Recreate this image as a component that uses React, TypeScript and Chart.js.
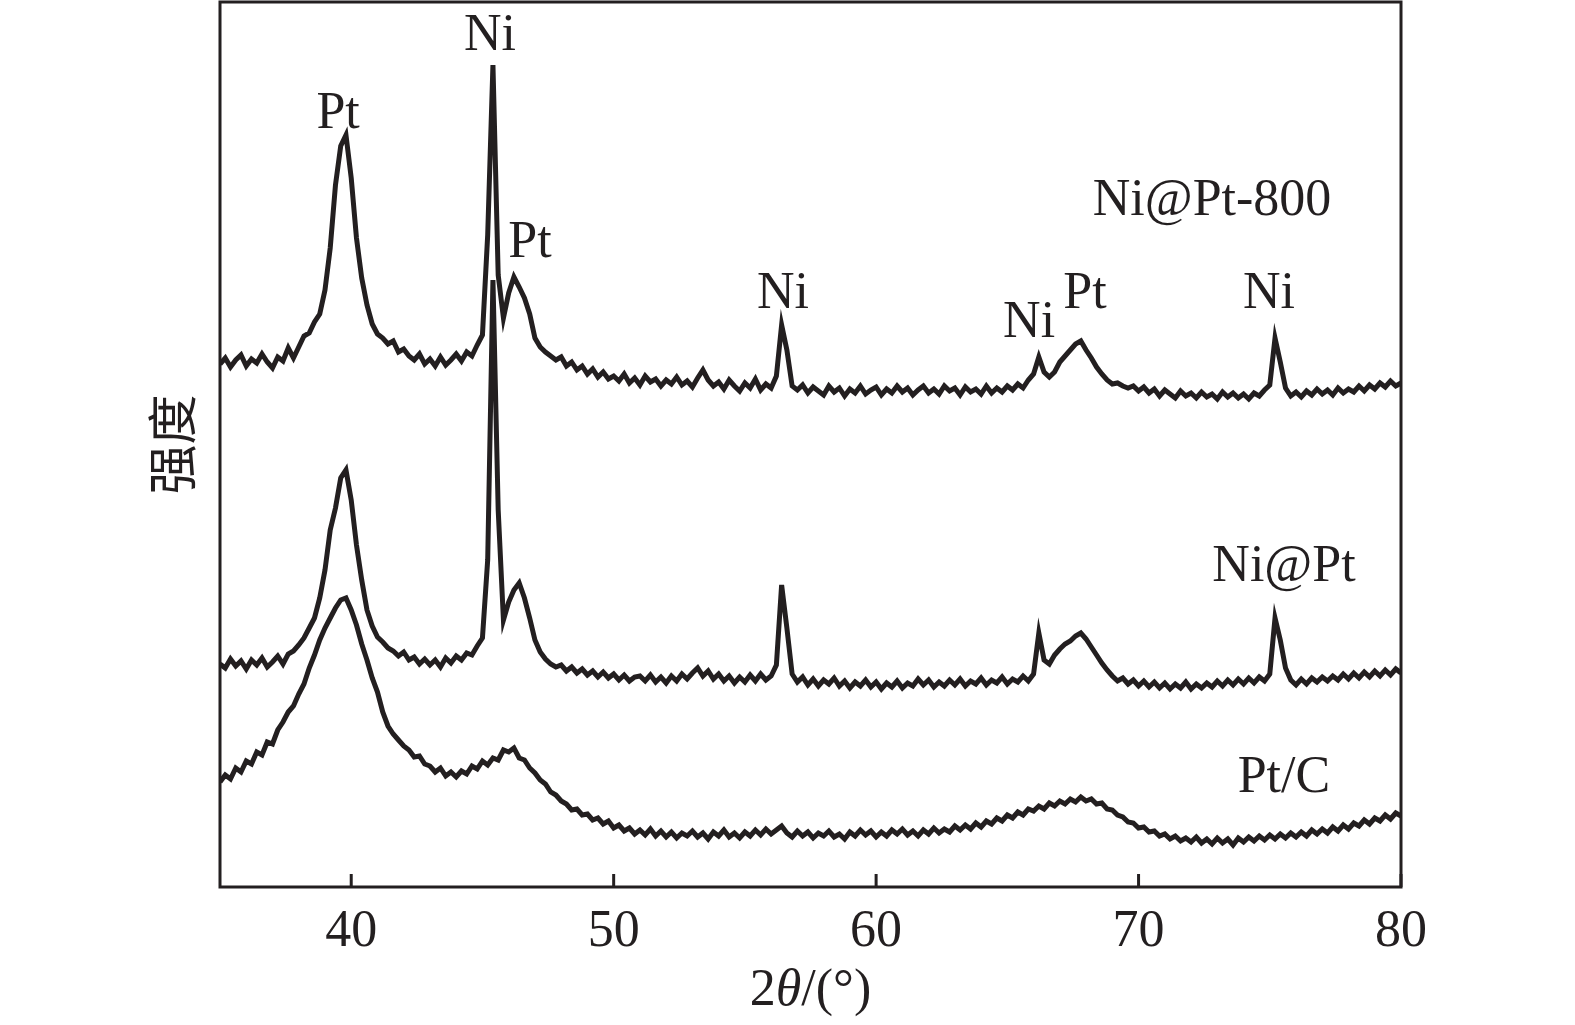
import { useEffect, useRef } from 'react';
import { Chart, registerables } from 'chart.js';

Chart.register(...registerables);

// Diffraction angle grid: 35.0° .. 80.0° sampled every 0.2°
const ANGLE_START = 35;
const ANGLE_STEP = 0.2;

// Intensity (a.u., vertically offset traces)
const niPt800 = [
  636, 642, 633, 640, 645, 634, 641, 637, 646, 638,
  632, 643, 639, 652, 642, 653, 664, 667, 678, 686,
  710, 752, 815, 854, 865, 822, 762, 722, 695, 676,
  666, 662, 656, 659, 648, 651, 644, 640, 646, 636,
  641, 634, 643, 635, 640, 646, 639, 648, 644, 655,
  665, 765, 935, 725, 682, 707, 723, 713, 702, 686,
  662, 653, 648, 644, 640, 643, 634, 638, 630, 634,
  626, 631, 623, 628, 621, 624, 619, 626, 617, 622,
  615, 624, 618, 621, 614, 620, 616, 623, 615, 619,
  613, 622, 630, 620, 614, 618, 611, 620, 614, 609,
  617, 612, 621, 610, 616, 612, 624, 675, 650, 614,
  610, 615, 607, 613, 609, 605, 614, 608, 612, 604,
  611, 607, 614, 606, 610, 613, 605, 611, 607, 614,
  608, 612, 605, 610, 614, 607, 611, 606, 614, 609,
  612, 605, 613, 608, 611, 606, 614, 607, 612, 608,
  614, 610, 616, 612, 620, 626, 643, 628, 623, 628,
  638, 644, 650, 656, 659, 650, 642, 633, 626, 620,
  616, 617, 614, 612, 614, 609, 613, 607, 611, 604,
  610, 606, 602, 609, 604, 607, 602, 608, 603, 606,
  601, 608, 603, 607, 602, 606, 601, 607, 604, 610,
  615, 662, 638, 612, 604, 608, 603, 609, 605, 611,
  606, 610, 605, 612, 607, 611, 608, 614, 609, 615,
  611, 617, 613, 619, 614, 617,
];

const niPt = [
  336, 332, 341, 334, 339, 331, 340, 335, 342, 333,
  338, 344, 336, 346, 349, 355, 362, 372, 382, 402,
  430, 470, 492, 522, 530, 500, 455, 420, 390, 374,
  363, 358, 352, 349, 344, 348, 340, 343, 336, 341,
  335, 340, 333, 342, 337, 344, 340, 347, 345, 354,
  362, 440, 720, 490, 380, 398, 410, 417, 402, 382,
  360, 348, 341, 336, 333, 335, 329, 333, 327, 331,
  325, 329, 323, 328, 322, 326, 320, 325, 319, 323,
  324, 319, 325, 318, 323, 317, 324, 319, 326, 321,
  327, 332, 324, 329, 321, 326, 319, 324, 317, 323,
  318, 325, 319, 326, 320, 324, 335, 415, 372, 326,
  318, 323, 315, 321, 314, 320, 316, 322, 314, 319,
  312, 318, 314, 320, 313, 318, 311, 317, 313, 319,
  312, 317, 314, 321, 315, 320, 313, 318, 314, 320,
  315, 321, 314, 319, 316, 322, 315, 320, 317, 323,
  316, 321, 318, 324, 319, 326, 367, 340, 336, 345,
  351, 356, 359, 364, 367, 361, 353, 345, 337, 330,
  324, 319, 322, 316, 320, 314, 319, 313, 318, 312,
  317, 311, 316, 312, 318, 311, 316, 312, 317, 313,
  319, 314, 320, 315, 321, 316, 322, 317, 323, 319,
  326, 382, 360, 332, 320, 315, 321, 316, 322, 318,
  323, 319, 324, 320, 326, 321, 327, 322, 328, 323,
  329, 324, 330, 325, 331, 327,
];

const ptC = [
  218, 225, 221, 232, 228, 239, 236, 248, 245, 258,
  256, 270, 278, 288, 294, 306, 316, 332, 345, 360,
  372, 382, 392, 400, 402, 390, 375, 356, 340, 322,
  308, 288, 274, 266, 260, 254, 250, 243, 244, 236,
  234, 228, 232, 224, 228, 223, 229, 226, 234, 231,
  239, 235, 242, 240, 250, 248, 252, 242, 240, 232,
  227, 220, 216, 208, 205, 199, 196, 190, 191, 185,
  186, 180, 182, 176, 179, 172, 175, 169, 172, 166,
  170, 165, 171, 164, 169, 163, 168, 162, 167, 164,
  169, 163, 167, 161, 168, 164, 170, 163, 167, 162,
  168, 164, 170, 165, 171, 166, 170, 174, 167, 163,
  169, 164, 168, 162, 167, 164, 169, 163, 166, 161,
  168, 164, 170, 165, 169, 163, 168, 164, 170, 166,
  171, 165, 169, 164, 170, 166, 172, 167, 171, 168,
  174, 170, 175, 171, 177, 173, 179, 176, 182, 179,
  185, 182, 188, 185, 191, 189, 194, 191, 197, 194,
  199, 196, 201, 198, 203, 199, 201, 196, 197, 191,
  190, 185, 183, 178, 177, 172, 173, 168, 169, 164,
  166, 161, 164, 159, 162, 158, 163, 157, 161, 156,
  162, 157, 161, 155, 162, 158, 163, 159, 164, 160,
  165, 161, 166, 162, 167, 163, 168, 164, 170, 166,
  171, 167, 173, 169, 175, 171, 177, 174, 180, 176,
  182, 179, 185, 181, 187, 184,
];

const X_MIN = 35;
const X_MAX = 80;
const Y_MIN = 113;
const Y_MAX = 998;
const xTicks = [40, 50, 60, 70, 80];

const seriesNames = ['Ni@Pt-800', 'Ni@Pt', 'Pt/C'];
const seriesNameAngles = [72.8, 75.54, 75.54];
const seriesNameIntensities = [785, 419, 208];

const peakLabels = ['Pt', 'Ni', 'Pt', 'Ni', 'Ni', 'Pt', 'Ni'];
const peakLabelAngles = [39.5, 45.29, 46.81, 56.45, 65.83, 67.96, 74.97];
const peakLabelIntensities = [872, 950, 743, 692, 663, 692, 692];

const INK = '#231f20';
const SERIF = '"Liberation Serif", "Times New Roman", serif';

const decorPlugin = {
  id: 'decor',
  afterDatasetsDraw(chart: any) {
    const { ctx, chartArea, scales } = chart;
    const { left, right, top, bottom } = chartArea;
    const xs = scales.x;
    const ys = scales.y;
    ctx.save();
    ctx.strokeStyle = INK;
    ctx.fillStyle = INK;
    ctx.lineWidth = 3;
    ctx.strokeRect(left, top, right - left, bottom - top);

    // inner tick marks + tick labels
    ctx.font = `52px ${SERIF}`;
    ctx.textAlign = 'center';
    ctx.textBaseline = 'alphabetic';
    xTicks.forEach((t) => {
      const px = xs.getPixelForValue(t);
      ctx.beginPath();
      ctx.moveTo(px, bottom);
      ctx.lineTo(px, bottom - 13);
      ctx.stroke();
      ctx.fillText(String(t), px, bottom + 59);
    });

    // x title: 2θ/(°) with italic θ
    const parts = [
      { t: '2', f: `52px ${SERIF}` },
      { t: 'θ', f: `italic 52px ${SERIF}` },
      { t: '/(°)', f: `52px ${SERIF}` },
    ];
    let total = 0;
    const widths = parts.map((p) => {
      ctx.font = p.f;
      const w = ctx.measureText(p.t).width;
      total += w;
      return w;
    });
    let cx = (left + right) / 2 - total / 2;
    ctx.textAlign = 'left';
    parts.forEach((p, i) => {
      ctx.font = p.f;
      ctx.fillText(p.t, cx, bottom + 118);
      cx += widths[i];
    });

    // y title
    ctx.save();
    ctx.translate(left - 48, (top + bottom) / 2);
    ctx.rotate(-Math.PI / 2);
    ctx.font = `50px "Noto Sans CJK SC", sans-serif`;
    ctx.textAlign = 'center';
    ctx.textBaseline = 'middle';
    ctx.fillText('强度', 0, 0);
    ctx.restore();

    // in-plot labels
    ctx.font = `52px ${SERIF}`;
    ctx.textAlign = 'center';
    ctx.textBaseline = 'alphabetic';
    peakLabels.forEach((lab, i) => {
      ctx.fillText(lab, xs.getPixelForValue(peakLabelAngles[i]), ys.getPixelForValue(peakLabelIntensities[i]));
    });
    seriesNames.forEach((lab, i) => {
      ctx.fillText(lab, xs.getPixelForValue(seriesNameAngles[i]), ys.getPixelForValue(seriesNameIntensities[i]));
    });
    ctx.restore();
  },
};

export default function App() {
  const canvasRef = useRef<HTMLCanvasElement>(null);

  useEffect(() => {
    const canvas = canvasRef.current;
    if (!canvas) return;
    const toPoints = (vals: number[]) =>
      vals.map((v, i) => ({ x: ANGLE_START + i * ANGLE_STEP, y: v }));
    const mk = (label: string, vals: number[]) => ({
      label,
      data: toPoints(vals),
      borderColor: INK,
      backgroundColor: INK,
      borderWidth: 5,
      pointRadius: 0,
      tension: 0,
      fill: false,
    });
    const chart = new Chart(canvas, {
      type: 'line',
      data: {
        datasets: [mk(seriesNames[0], niPt800), mk(seriesNames[1], niPt), mk(seriesNames[2], ptC)],
      },
      options: {
        animation: false,
        responsive: false,
        devicePixelRatio: 1,
        parsing: false as any,
        normalized: true,
        layout: { padding: { left: 220, right: 174, top: 2, bottom: 138 } },
        plugins: { legend: { display: false }, tooltip: { enabled: false } },
        scales: {
          x: { type: 'linear', min: X_MIN, max: X_MAX, display: false },
          y: { type: 'linear', min: Y_MIN, max: Y_MAX, display: false },
        },
      },
      plugins: [decorPlugin],
    });
    return () => chart.destroy();
  }, []);

  return (
    <div style={{ position: 'fixed', left: 0, top: 0, width: 1575, height: 1025, background: '#fff' }}>
      <canvas ref={canvasRef} width={1575} height={1025} style={{ display: 'block', width: 1575, height: 1025 }} />
    </div>
  );
}
